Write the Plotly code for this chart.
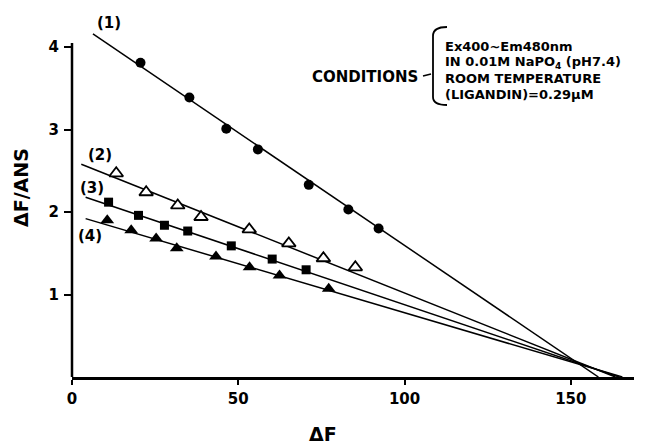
import plotly.graph_objects as go

# ---- data ----
X1 = [20.6, 35.3, 46.4, 55.9, 71.2, 83.1, 92.2]
Y1 = [3.81, 3.39, 3.01, 2.76, 2.33, 2.03, 1.80]
X2 = [13.3, 22.3, 31.8, 38.8, 53.3, 65.2, 75.6, 85.2]
Y2 = [2.47, 2.24, 2.08, 1.94, 1.79, 1.62, 1.44, 1.33]
X3 = [11.0, 20.0, 27.8, 34.8, 47.9, 60.2, 70.4]
Y3 = [2.12, 1.96, 1.84, 1.77, 1.59, 1.43, 1.30]
X4 = [10.6, 17.8, 25.3, 31.5, 43.3, 53.4, 62.4, 77.2]
Y4 = [1.90, 1.78, 1.68, 1.56, 1.46, 1.33, 1.23, 1.07]

# fitted lines (end points)
FIT1_X = [6.3, 158.3]
FIT1_Y = [4.16, 0.0]
FIT2_X = [2.8, 163.4]
FIT2_Y = [2.58, 0.0]
FIT3_X = [4.1, 164.5]
FIT3_Y = [2.18, 0.0]
FIT4_X = [4.1, 165.5]
FIT4_Y = [1.92, 0.0]

SERIES_LABELS = ["(1)", "(2)", "(3)", "(4)"]
X_TICKS = [0, 50, 100, 150]
Y_TICKS = [1, 2, 3, 4]
CONDITION_LINES = ["Ex400~Em480nm", "IN 0.01M NaPO<sub>4</sub> (pH7.4)",
                   "ROOM TEMPERATURE", "(LIGANDIN)=0.29\u03bcM"]

FONT = "DejaVu Sans"

# page geometry (the page body adds an 8 px offset around the figure)
OFF = 8
W, H = 645 - OFF, 444 - OFF
PL, PR, PT, PB = 72, 634, 10, 377          # plot area in page pixels
ML, MR, MT, MB = PL - OFF, W - (PR - OFF), PT - OFF, H - (PB - OFF)
XR = [0, 169]
YR = [0, 4.45]
PW = PR - PL
PH = PB - PT


def dx(px):
    return (px - PL) / PW * (XR[1] - XR[0]) + XR[0]


def dy(py):
    return (PB - py) / PH * (YR[1] - YR[0]) + YR[0]


def paper_x(px):
    return (px - PL) / PW


def paper_y(py):
    return (PB - py) / PH


fig = go.Figure()

for fx, fy in [(FIT1_X, FIT1_Y), (FIT2_X, FIT2_Y), (FIT3_X, FIT3_Y), (FIT4_X, FIT4_Y)]:
    fig.add_trace(go.Scatter(x=fx, y=fy, mode="lines",
                             line=dict(color="black", width=1.5),
                             showlegend=False, hoverinfo="skip"))

fig.add_trace(go.Scatter(x=X1, y=Y1, mode="markers", showlegend=False,
                         marker=dict(symbol="circle", size=10, color="black")))
fig.add_trace(go.Scatter(x=X2, y=Y2, mode="markers", showlegend=False,
                         marker=dict(symbol="triangle-up", size=12, color="white",
                                     line=dict(color="black", width=1.8))))
fig.add_trace(go.Scatter(x=X3, y=Y3, mode="markers", showlegend=False,
                         marker=dict(symbol="square", size=9, color="black")))
fig.add_trace(go.Scatter(x=X4, y=Y4, mode="markers", showlegend=False,
                         marker=dict(symbol="triangle-up", size=12, color="black")))

tickfont = dict(family=FONT, size=15, color="black", weight="bold")

fig.update_layout(
    width=W, height=H,
    margin=dict(l=ML, r=MR, t=MT, b=MB),
    paper_bgcolor="white", plot_bgcolor="white",
    xaxis=dict(range=XR, showgrid=False, zeroline=False, showline=True,
               linecolor="black", linewidth=2.5, ticks="outside", ticklen=5,
               tickwidth=2, tickcolor="black", tickvals=X_TICKS,
               tickfont=tickfont, ticklabelstandoff=1),
    yaxis=dict(range=YR, showgrid=False, zeroline=False, showline=False,
               ticks="outside", ticklen=7, tickwidth=2, tickcolor="black",
               tickvals=Y_TICKS, tickfont=tickfont, ticklabelstandoff=2),
)

# y axis line (stops just above the top tick)
fig.add_shape(type="line", xref="paper", yref="y", x0=0, x1=0, y0=0, y1=4.05,
              line=dict(color="black", width=2.5))

# axis titles
fig.add_annotation(text="\u0394F/ANS", x=paper_x(21), y=paper_y(188),
                   xref="paper", yref="paper", xanchor="center", yanchor="middle",
                   showarrow=False, textangle=-90,
                   font=dict(family=FONT, size=19, color="black", weight="bold"))
fig.add_annotation(text="\u0394F", x=paper_x(323), y=paper_y(434),
                   xref="paper", yref="paper", xanchor="center", yanchor="middle",
                   showarrow=False,
                   font=dict(family=FONT, size=19, color="black", weight="bold"))

# series labels
label_pos = [(109, 23), (99.5, 155), (91.5, 188), (89.5, 236)]
for lab, (px, py) in zip(SERIES_LABELS, label_pos):
    fig.add_annotation(text=lab, x=dx(px), y=dy(py), xref="x", yref="y",
                       xanchor="center", yanchor="middle", showarrow=False,
                       font=dict(family=FONT, size=15, color="black", weight="bold"))

# conditions block
row_y = [46, 62, 78, 94]
fig.add_annotation(text="CONDITIONS", x=dx(420), y=dy(row_y[2] - 1), xref="x", yref="y",
                   xanchor="right", yanchor="middle", showarrow=False,
                   font=dict(family=FONT, size=15, color="black", weight="bold"))
fig.add_shape(type="line", xref="x", yref="y", x0=dx(423), x1=dx(431),
              y0=dy(row_y[2] - 2), y1=dy(row_y[2] - 4), line=dict(color="black", width=1.5))


def P(px, py):
    return f"{dx(px):.3f},{dy(py):.4f}"


bracket = (f"M {P(447, 27)} Q {P(433, 27)} {P(433, 36)} L {P(433, 97)} "
           f"Q {P(433, 105)} {P(447, 105)}")
fig.add_shape(type="path", xref="x", yref="y", path=bracket,
              line=dict(color="black", width=1.8))

for txt, py in zip(CONDITION_LINES, row_y):
    fig.add_annotation(text=txt, x=dx(443), y=dy(py), xref="x", yref="y",
                       xanchor="left", yanchor="middle", showarrow=False,
                       font=dict(family=FONT, size=13, color="black", weight="bold"))

fig.write_html("out.html")
